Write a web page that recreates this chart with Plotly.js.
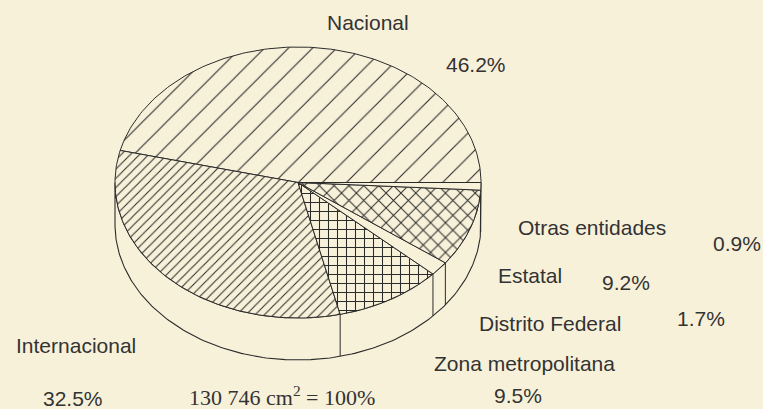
<!DOCTYPE html>
<html><head><meta charset="utf-8">
<script src="https://cdn.plot.ly/plotly-3.0.1.min.js"></script>
<style>html,body{margin:0;padding:0;background:#f8f1da;}#chart{width:763px;height:409px;}</style>
</head><body><div id="chart"></div>
<script>
// ---- data ----
const categories = ['Nacional', 'Internacional', 'Zona metropolitana', 'Distrito Federal', 'Estatal', 'Otras entidades'];
const shares = [46.2, 32.5, 9.5, 1.7, 9.2, 0.9];
const totalLabel = '130 746 cm<sup>2</sup> = 100%';

// ---- styles ----
const BG = '#f8f1da', INK = '#2b2b2b', TXT = '#333333';
const patterns = [
  {shape: '/', size: 17, solidity: 0.065},
  {shape: '/', size: 6.5, solidity: 0.16},
  {shape: '+', size: 9, solidity: 0.22},
  null,
  {shape: 'x', size: 10.5, solidity: 0.18},
  null
];
// ---- geometry (pixel space of the axes) ----
const geo = {cx: 298, cy: 182.5, a: 183, b: 135.5, depth: 42};
// label positions: [nameX, nameY, valueX, valueY]
const labelPos = [
  [368, 22, 476, 64],
  [76, 345, 73, 398],
  [524, 363, 518, 395],
  [550, 323, 701, 318],
  [530, 275, 626, 282],
  [592, 227, 737, 243]
];
const totalPos = [282, 396];

const total = shares.reduce((s, v) => s + v, 0);
let acc = 0;
const slices = shares.map(v => { const t0 = acc / total * 360; acc += v; return [t0, acc / total * 360]; });
function pt(deg, dy) {
  const r = deg * Math.PI / 180;
  return [geo.cx + geo.a * Math.cos(r), geo.cy - geo.b * Math.sin(r) + (dy || 0)];
}
function arc(t0, t1, dy) {
  const n = Math.max(2, Math.ceil(Math.abs(t1 - t0)));
  const xs = [], ys = [];
  for (let i = 0; i <= n; i++) { const p = pt(t0 + (t1 - t0) * i / n, dy); xs.push(p[0]); ys.push(p[1]); }
  return [xs, ys];
}

const traces = [];
// side wall (front half)
{
  const top = arc(180, 360, 0), bot = arc(360, 180, geo.depth);
  traces.push({
    type: 'scatter', mode: 'lines', x: top[0].concat(bot[0], [top[0][0]]), y: top[1].concat(bot[1], [top[1][0]]),
    fill: 'toself', fillcolor: BG, line: {color: INK, width: 1.1}, hoverinfo: 'skip'
  });
  const vx = [], vy = [];
  slices.forEach(s => {
    const t = s[1];
    if (t > 180 && t < 359.5) { const p = pt(t), q = pt(t, geo.depth); vx.push(p[0], q[0], null); vy.push(p[1], q[1], null); }
  });
  traces.push({type: 'scatter', mode: 'lines', x: vx, y: vy, line: {color: INK, width: 1}, hoverinfo: 'skip'});
}
// top slices
slices.forEach((s, i) => {
  const a = arc(s[0], s[1], 0);
  const tr = {
    type: 'scatter', mode: 'lines', name: categories[i],
    x: [geo.cx].concat(a[0], [geo.cx]), y: [geo.cy].concat(a[1], [geo.cy]),
    fill: 'toself', fillcolor: BG, line: {color: INK, width: 1}, hoverinfo: 'skip'
  };
  if (patterns[i]) {
    tr.fillpattern = Object.assign({fgcolor: INK, bgcolor: BG, fillmode: 'replace'}, patterns[i]);
  }
  traces.push(tr);
});

const font = {family: 'Liberation Sans, Arial, Helvetica, sans-serif', size: 21, color: TXT};
const annotations = [];
categories.forEach((c, i) => {
  const p = labelPos[i];
  annotations.push({x: p[0], y: p[1], xref: 'x', yref: 'y', text: c, showarrow: false, font: font, xanchor: 'center', yanchor: 'middle'});
  annotations.push({x: p[2], y: p[3], xref: 'x', yref: 'y', text: shares[i].toFixed(1) + '%', showarrow: false, font: font, xanchor: 'center', yanchor: 'middle'});
});
annotations.push({x: totalPos[0], y: totalPos[1], xref: 'x', yref: 'y', text: totalLabel, showarrow: false,
  font: {family: 'Liberation Serif, Times New Roman, serif', size: 22, color: TXT}, xanchor: 'center', yanchor: 'middle'});

const layout = {
  width: 763, height: 409, margin: {l: 0, r: 0, t: 0, b: 0},
  paper_bgcolor: BG, plot_bgcolor: BG, showlegend: false,
  xaxis: {range: [0, 763], visible: false, fixedrange: true},
  yaxis: {range: [409, 0], visible: false, fixedrange: true},
  annotations: annotations
};
Plotly.newPlot('chart', traces, layout, {staticPlot: true, displayModeBar: false});
</script>
</body></html>
